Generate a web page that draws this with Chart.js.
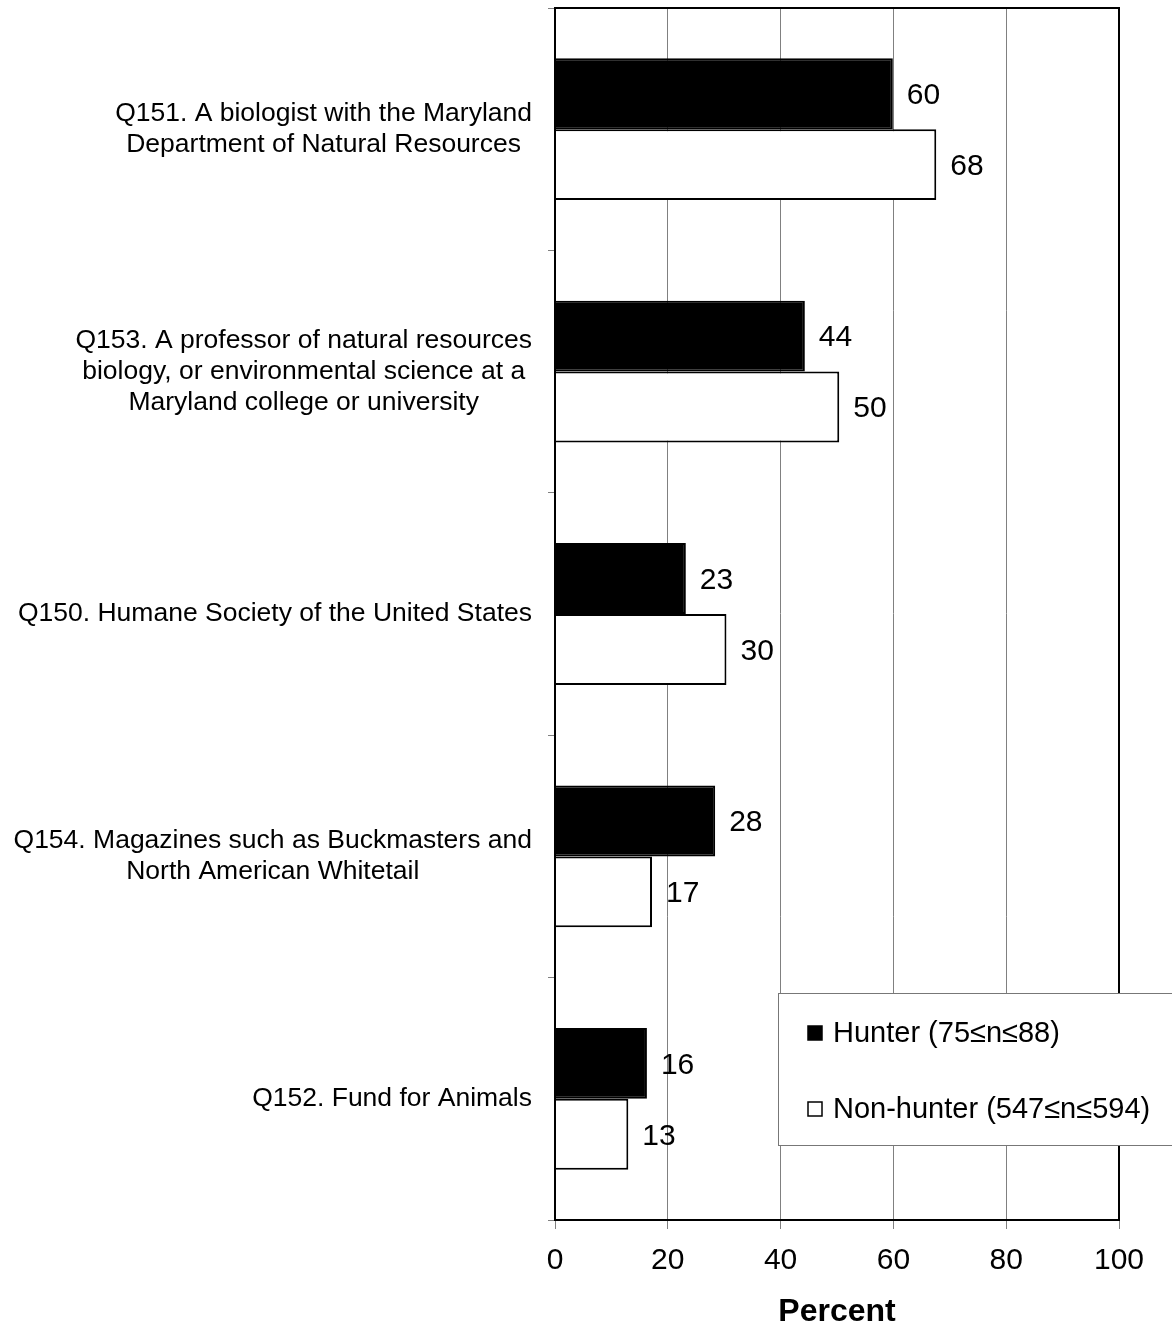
<!DOCTYPE html>
<html>
<head>
<meta charset="utf-8">
<script src="https://cdn.jsdelivr.net/npm/chart.js@4.4.1/dist/chart.umd.min.js"></script>
<style>
  html, body { margin: 0; padding: 0; background: #fff; }
  #wrap { width: 1172px; height: 1328px; }
</style>
</head>
<body>
<div id="wrap"><canvas id="trustChart" width="1172" height="1328"></canvas></div>
<script>
// categories, top to bottom
const categories = [
  ['Q151. A biologist with the Maryland', 'Department of Natural Resources'],
  ['Q153. A professor of natural resources', 'biology, or environmental science at a', 'Maryland college or university'],
  ['Q150. Humane Society of the United States'],
  ['Q154. Magazines such as Buckmasters and', 'North American Whitetail'],
  ['Q152. Fund for Animals']
];
const hunterValues = [59.9, 44.3, 23.2, 28.4, 16.3];
const nonHunterValues = [67.6, 50.4, 30.4, 17.2, 13.0];
const seriesNames = ['Hunter (75\u2264n\u226488)', 'Non-hunter (547\u2264n\u2264594)'];
const xTicks = [0, 20, 40, 60, 80, 100];

const FONT = "'Liberation Sans', Arial, sans-serif";

// draws the category labels: block right aligned, lines centered in the block
const categoryLabels = {
  id: 'categoryLabels',
  afterDraw(chart) {
    const ctx = chart.ctx;
    const y = chart.scales.y;
    const right = y.right - 23;
    const lh = 31;
    ctx.save();
    ctx.font = '26.5px ' + FONT;
    ctx.fillStyle = '#000';
    ctx.textAlign = 'center';
    ctx.textBaseline = 'middle';
    categories.forEach((lines, i) => {
      const cy = y.getPixelForTick(i);
      const widest = Math.max(...lines.map(l => ctx.measureText(l).width));
      const cx = right - widest / 2;
      const top = cy - (lines.length - 1) * lh / 2;
      lines.forEach((l, j) => ctx.fillText(l, cx, top + j * lh));
    });
    ctx.restore();
  }
};

// frame around plot + value labels
const frameAndValues = {
  id: 'frameAndValues',
  afterDatasetsDraw(chart) {
    const ctx = chart.ctx;
    const a = chart.chartArea;
    ctx.save();
    ctx.font = '30px ' + FONT;
    ctx.fillStyle = '#000';
    ctx.textAlign = 'left';
    ctx.textBaseline = 'middle';
    chart.data.datasets.forEach((ds, di) => {
      chart.getDatasetMeta(di).data.forEach((bar, i) => {
        ctx.fillText(String(Math.round(ds.data[i])), bar.x + 14, bar.y + 2);
      });
    });
    ctx.strokeStyle = '#000';
    ctx.lineWidth = 2;
    ctx.strokeRect(a.left, a.top, a.right - a.left, a.bottom - a.top);
    ctx.restore();
  }
};

// legend box sitting over the lower right of the plot
const boxLegend = {
  id: 'boxLegend',
  afterDraw(chart) {
    const ctx = chart.ctx;
    const a = chart.chartArea;
    const bx = a.left + 223, by = a.bottom - 227;
    ctx.save();
    ctx.fillStyle = '#fff';
    ctx.fillRect(bx, by, 420, 152);
    ctx.strokeStyle = '#777';
    ctx.lineWidth = 1;
    ctx.strokeRect(bx + 0.5, by + 0.5, 420, 152);
    ctx.font = '29px ' + FONT;
    ctx.textAlign = 'left';
    ctx.textBaseline = 'middle';
    chart.data.datasets.forEach((ds, i) => {
      const cy = by + 40 + i * 76;
      ctx.fillStyle = ds.backgroundColor;
      ctx.fillRect(bx + 30, cy - 7, 14, 14);
      ctx.strokeStyle = '#000';
      ctx.lineWidth = 1.5;
      ctx.strokeRect(bx + 30, cy - 7, 14, 14);
      ctx.fillStyle = '#000';
      ctx.fillText(ds.label, bx + 55, cy + 1);
    });
    ctx.restore();
  }
};

new Chart(document.getElementById('trustChart').getContext('2d'), {
  type: 'bar',
  data: {
    labels: categories.map(c => c.join(' ')),
    datasets: [
      { label: seriesNames[0], data: hunterValues, backgroundColor: '#000', borderColor: '#000', borderWidth: 2 },
      { label: seriesNames[1], data: nonHunterValues, backgroundColor: '#fff', borderColor: '#000', borderWidth: 2 }
    ]
  },
  options: {
    indexAxis: 'y',
    responsive: false,
    animation: false,
    devicePixelRatio: 1,
    categoryPercentage: 0.585,
    barPercentage: 1.0,
    layout: { padding: { top: 8, right: 53, left: 0, bottom: 0 } },
    plugins: { legend: { display: false }, tooltip: { enabled: false } },
    scales: {
      x: {
        min: 0,
        max: 100,
        afterBuildTicks: s => { s.ticks = xTicks.map(v => ({ value: v })); },
        afterFit: s => { s.height = 108; },
        grid: { color: '#808080', lineWidth: 1, tickLength: 9, tickColor: '#808080' },
        border: { color: '#000', width: 2 },
        ticks: { color: '#000', font: { family: FONT, size: 30 }, padding: 14 },
        title: {
          display: true, text: 'Percent', color: '#000',
          font: { family: FONT, size: 32, weight: 'bold', lineHeight: 1 },
          padding: { top: 0, bottom: 0 }
        }
      },
      y: {
        afterFit: s => { s.width = 555; },
        grid: { offset: true, drawOnChartArea: false, tickLength: 7, tickColor: '#808080' },
        border: { color: '#000', width: 2 },
        ticks: { display: false }
      }
    }
  },
  plugins: [categoryLabels, frameAndValues, boxLegend]
});
</script>
</body>
</html>
